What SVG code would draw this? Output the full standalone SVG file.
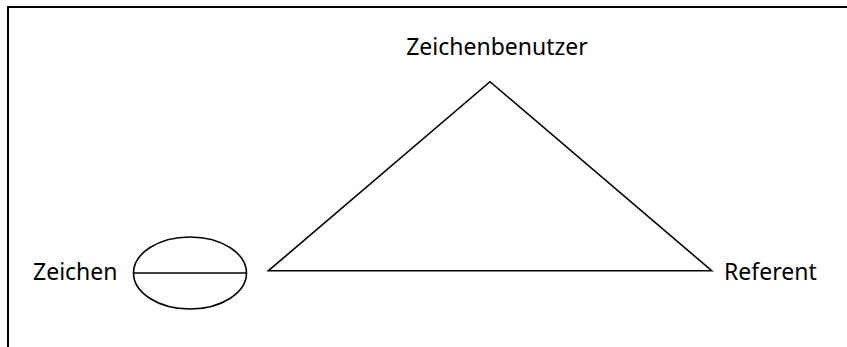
<svg xmlns="http://www.w3.org/2000/svg" width="847" height="347" viewBox="0 0 847 347">
<style>
.lbl{font-family:"Noto Sans","Open Sans",sans-serif;font-size:23px;fill:#000}
.ln{fill:none;stroke:#000;stroke-width:1.6}
.frame{fill:none;stroke:#000;stroke-width:2}
</style>
<rect width="847" height="347" fill="#fff"/>
<path class="frame" d="M8,347 V7 H847"/>
<g id="zeichen">
<ellipse class="ln" cx="190" cy="273" rx="56.5" ry="36"/>
<line class="ln" x1="133.5" y1="273" x2="246.5" y2="273"/>
<text class="lbl" x="33" y="280">Zeichen</text>
</g>
<g id="zeichenbenutzer">
<text class="lbl" x="497" y="55" text-anchor="middle">Zeichenbenutzer</text>
</g>
<g id="referent">
<text class="lbl" x="724" y="279.5">Referent</text>
</g>
<g id="connectors">
<path class="ln" d="M268.5,270.7 L490,81.7 L711.7,270.7 Z" stroke-linejoin="miter"/>
</g>
</svg>
